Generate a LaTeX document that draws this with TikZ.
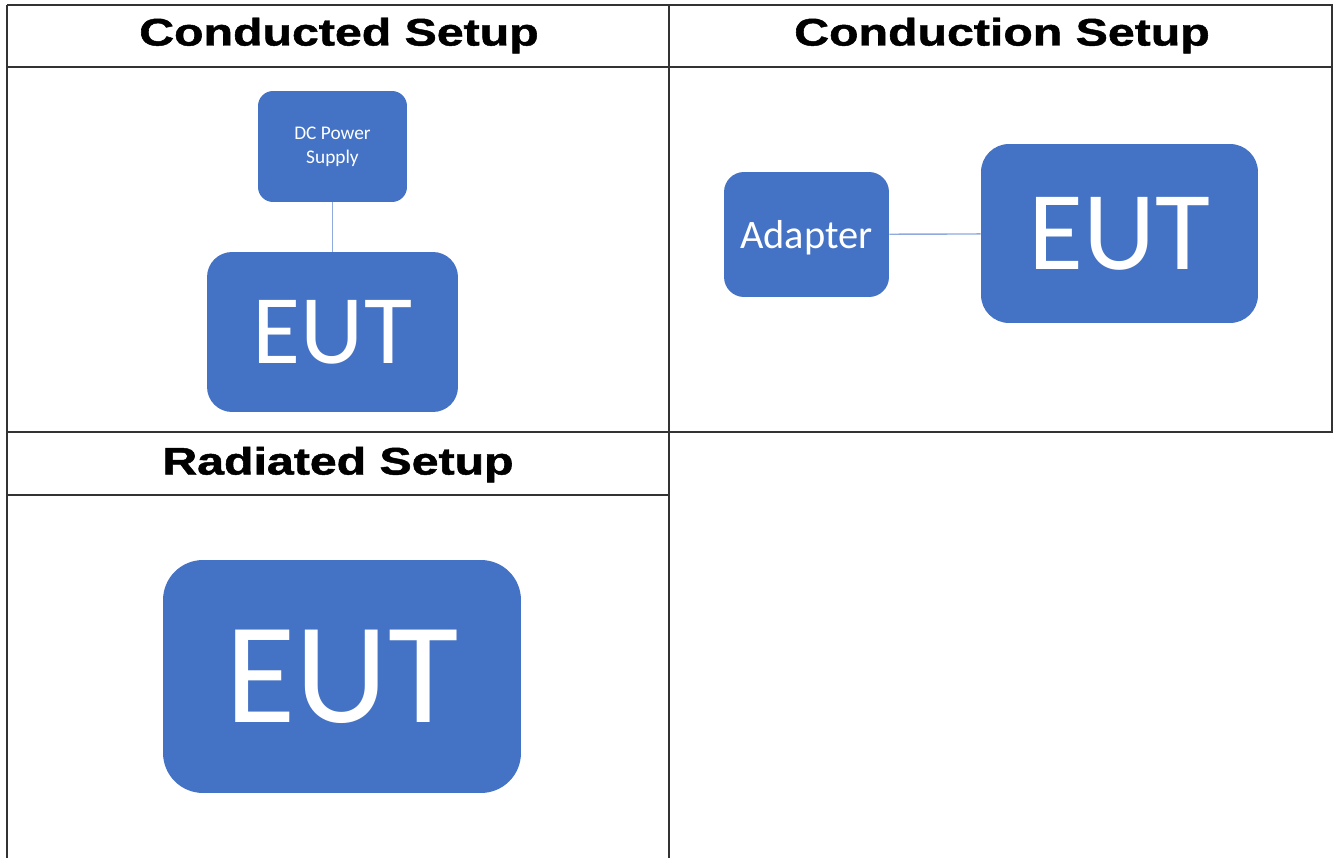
\documentclass[tikz,border=0pt]{standalone}
\usepackage{fontspec}
\setmainfont{Carlito}
\newfontfamily\headfont[FakeBold=1.2]{Liberation Sans Bold}
\usepackage{tikz}
\usetikzlibrary{positioning}
\definecolor{eutblue}{HTML}{4472C4}
\definecolor{wireblue}{HTML}{8FAADC}
\definecolor{gridgray}{HTML}{333333}
\tikzset{blockbox/.style={fill=eutblue,draw=none,text=white,inner sep=0pt,align=center}}
\tikzset{headtext/.style={anchor=base,inner sep=0pt,xscale=1.26,font=\headfont\fontsize{21.8}{24}\selectfont}}
\tikzset{tableline/.style={draw=gridgray,line width=1.2pt}}
\tikzset{wire/.style={draw=wireblue,line width=0.8pt}}

\begin{document}
\begin{tikzpicture}[x=0.02cm,y=-0.02cm]
\useasboundingbox (0,0) rectangle (1336,858);
% \draw[help lines] (0,0) grid (1336,858);
\coordinate (tl) at (7,5);
\coordinate (tm) at (669,5);
\coordinate (tr) at (1332,5);
\coordinate (hl) at (7,67);
\coordinate (hr) at (1332,67);
\coordinate (ml) at (7,432);
\coordinate (mm) at (669,432);
\coordinate (mr) at (1332,432);
\coordinate (rl) at (7,495);
\coordinate (rm) at (669,495);
\coordinate (bl) at (7,858);
\coordinate (bm) at (669,858);
%
\path[tableline] (tl) -- (tr) -- (mr) -- (ml);
\path[tableline] (tl) -- (bl);
\path[tableline] (tm) -- (bm);
\path[tableline] (hl) -- (hr);
\path[tableline] (rl) -- (rm);
%
\node (h1) [headtext] at (339,45.5) {Conducted Setup};
\node (h2) [headtext] at (1002,45.5) {Conduction Setup};
\node (h3) [headtext] at (338,474.5) {Radiated Setup};
% conducted
\node (dc) [blockbox,rounded corners=0.3cm,minimum width=2.98cm,minimum height=2.22cm,
  font=\fontsize{11}{13.8}\selectfont] at (332.5,146.5) {DC Power\\Supply};
\node (euta) [blockbox,rounded corners=0.5cm,minimum width=5.02cm,minimum height=3.2cm,
  font=\fontsize{56}{60}\selectfont] at (332.5,332) {EUT};
\path[wire] (dc) edge (euta);
% conduction
\node (ad) [blockbox,rounded corners=0.4cm,minimum width=3.3cm,minimum height=2.5cm,
  text depth=0pt,font=\fontsize{23}{26}\selectfont] at (806.5,234.5) {Adapter};
\node (eutb) [blockbox,rounded corners=0.56cm,minimum width=5.54cm,minimum height=3.58cm,
  font=\fontsize{64}{68}\selectfont] at (1119.5,233.5) {EUT};
\path[wire] (ad) edge (eutb);
% radiated
\node (eutc) [blockbox,rounded corners=0.8cm,minimum width=7.16cm,minimum height=4.66cm,
  font=\fontsize{82}{86}\selectfont] at (342,676.5) {EUT};
\end{tikzpicture}
\end{document}
